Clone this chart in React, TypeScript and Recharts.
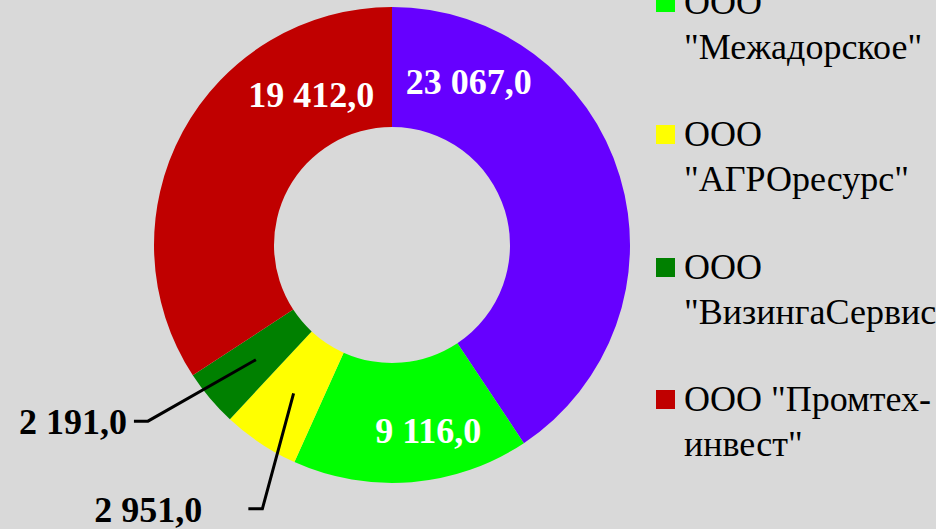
import { PieChart, Pie, Cell, Legend } from "recharts"

// first item sits above the visible area of the picture
const companies = [
  'ООО "Сысольское"',
  'ООО "Межадорское"',
  'ООО "АГРОресурс"',
  'ООО "ВизингаСервис"',
  'ООО "Промтех-инвест"',
]
const volumes = [23067, 9116, 2951, 2191, 19412]
const colors = ["#6600ff", "#00ff00", "#ffff00", "#008000", "#c00000"]

const data = companies.map((name, i) => ({ name, value: volumes[i] }))

const FONT =
  "'Times New Roman', Times, 'Liberation Serif', Tinos, 'Noto Serif', FreeSerif, 'DejaVu Serif', serif"
const RAD = Math.PI / 180

// label placement tweaks (the labels were dragged by hand in the original)
const insideLabels: Record<number, { dA: number; r: number }> = {
  0: { dA: 47.9, r: 180 },
  1: { dA: 6.3, r: 190 },
  4: { dA: -33.2, r: 170 },
}
const outsideLabels: Record<number, { dA: number; r: number; gap: number }> = {
  2: { dA: 7.4, r: 294, gap: 46 },
  3: { dA: -4.3, r: 301, gap: 7 },
}

const fmt = (v: number) => {
  const [i, d] = v.toFixed(1).split(".")
  return i.replace(/\B(?=(\d{3})+(?!\d))/g, " ") + "," + d
}

const pt = (cx: number, cy: number, r: number, a: number) => [
  cx + r * Math.cos(-a * RAD),
  cy + r * Math.sin(-a * RAD),
]

const renderLabel = (props: any) => {
  const { cx, cy, midAngle, innerRadius, outerRadius, index, value } = props
  const inn = insideLabels[index]
  if (inn) {
    const [x, y] = pt(cx, cy, inn.r, midAngle + inn.dA)
    return (
      <text
        x={x}
        y={y}
        fill="#fff"
        textAnchor="middle"
        dominantBaseline="central"
        fontFamily={FONT}
        fontSize={36}
        fontWeight={700}
      >
        {fmt(value)}
      </text>
    )
  }
  const out = outsideLabels[index]
  if (!out) return null
  const [sx, sy] = pt(cx, cy, (innerRadius + outerRadius) / 2, midAngle)
  const [ex, ey] = pt(cx, cy, out.r, midAngle + out.dA)
  const hx = ex - 14
  return (
    <g>
      <polyline
        points={`${sx},${sy} ${ex},${ey} ${hx},${ey}`}
        fill="none"
        stroke="#000"
        strokeWidth={3}
      />
      <text
        x={hx - out.gap}
        y={ey + 1}
        fill="#000"
        textAnchor="end"
        dominantBaseline="central"
        fontFamily={FONT}
        fontSize={36}
        fontWeight={700}
      >
        {fmt(value)}
      </text>
    </g>
  )
}

const LegendBox = () => (
  <div style={{ fontFamily: FONT, color: "#000" }}>
    {companies.map((name, i) => (
      <div
        key={name}
        style={{ display: "flex", alignItems: "flex-start", height: 90, marginBottom: 42.5 }}
      >
        <span
          style={{
            width: 19,
            height: 19,
            background: colors[i],
            marginTop: 13,
            marginRight: 9,
            flex: "none",
          }}
        />
        <span style={{ width: 280, fontSize: 36, lineHeight: "45px" }}>{name}</span>
      </div>
    ))}
  </div>
)

export default function App() {
  return (
    <div
      style={{
        position: "fixed",
        left: 0,
        top: 0,
        width: 936,
        height: 529,
        overflow: "hidden",
        background: "#d9d9d9",
      }}
    >
      <PieChart width={936} height={529} margin={{ top: 0, right: 0, bottom: 0, left: 0 }}>
        <Pie
          data={data}
          dataKey="value"
          nameKey="name"
          cx={392}
          cy={245}
          innerRadius={118}
          outerRadius={238}
          startAngle={90}
          endAngle={-270}
          stroke="none"
          label={renderLabel}
          labelLine={false}
          isAnimationActive={false}
        >
          {data.map((d, i) => (
            <Cell key={d.name} fill={colors[i]} />
          ))}
        </Pie>
        <Legend
          content={() => <LegendBox />}
          wrapperStyle={{ position: "absolute", left: 656, top: -153, width: 320 }}
        />
      </PieChart>
    </div>
  )
}
